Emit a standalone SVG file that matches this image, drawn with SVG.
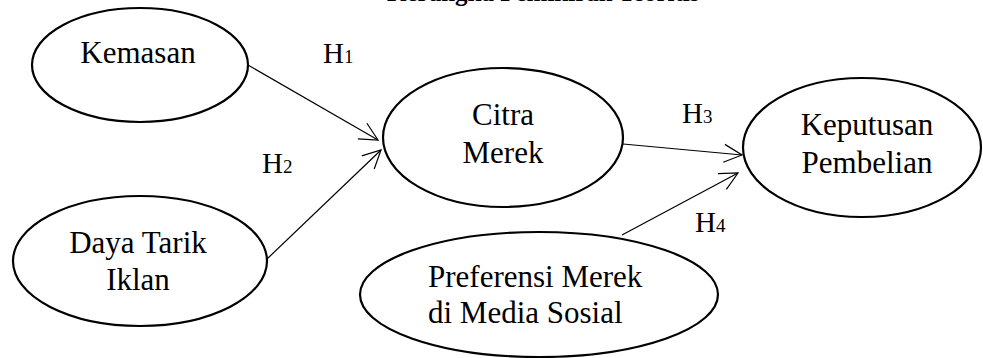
<svg xmlns="http://www.w3.org/2000/svg" width="983" height="358" viewBox="0 0 983 358">
<style>
  .node { fill: #ffffff; stroke: #000000; stroke-width: 2.2; }
  .lbl { font-family: "Liberation Serif", "Times New Roman", serif; font-size: 31px; fill: #000000; }
  .h { font-family: "Liberation Serif", "Times New Roman", serif; font-size: 29px; fill: #000000; }
  .sub { font-size: 19px; }
  .title { font-family: "Liberation Serif", "Times New Roman", serif; font-size: 25px; font-weight: bold; fill: #000000; }
  .edge { stroke: #000000; stroke-width: 1.2; fill: none; marker-end: url(#arr); }
</style>
<defs>
  <marker id="arr" markerUnits="userSpaceOnUse" markerWidth="20" markerHeight="20" viewBox="0 0 20 20" refX="18" refY="9" orient="auto" overflow="visible">
    <path d="M0,0 L18,9 L0,18" fill="none" stroke="#000000" stroke-width="1.2"/>
  </marker>
</defs>
<rect width="983" height="358" fill="#ffffff"/>
<text class="title" x="387" y="1">Kerangka Pemikiran Teoritis</text>

<g id="connectors">
  <line class="edge" x1="248" y1="65" x2="378" y2="140"/>
  <line class="edge" x1="267" y1="259" x2="381" y2="150"/>
  <line class="edge" x1="623" y1="144" x2="742" y2="155"/>
  <line class="edge" x1="622" y1="235" x2="738" y2="173"/>
</g>

<g id="kemasan">
  <ellipse class="node" cx="140" cy="65" rx="108" ry="57"/>
  <text class="lbl" x="138" y="63" text-anchor="middle">Kemasan</text>
</g>
<g id="daya-tarik-iklan">
  <ellipse class="node" cx="140" cy="261" rx="127" ry="65"/>
  <text class="lbl" x="138" y="253" text-anchor="middle">Daya Tarik</text>
  <text class="lbl" x="138" y="290" text-anchor="middle">Iklan</text>
</g>
<g id="citra-merek">
  <ellipse class="node" cx="503" cy="137.5" rx="120" ry="69.5"/>
  <text class="lbl" x="503" y="125" text-anchor="middle">Citra</text>
  <text class="lbl" x="503" y="163" text-anchor="middle">Merek</text>
</g>
<g id="keputusan-pembelian">
  <ellipse class="node" cx="862" cy="147.5" rx="119" ry="69.5"/>
  <text class="lbl" x="867" y="135" text-anchor="middle">Keputusan</text>
  <text class="lbl" x="867" y="173" text-anchor="middle">Pembelian</text>
</g>
<g id="preferensi-merek">
  <ellipse class="node" cx="539" cy="294.5" rx="179" ry="62.5"/>
  <text class="lbl" x="428" y="287">Preferensi Merek</text>
  <text class="lbl" x="428" y="323">di Media Sosial</text>
</g>

<g id="hypotheses">
  <text class="h" x="323" y="63">H<tspan class="sub">1</tspan></text>
  <text class="h" x="262" y="173">H<tspan class="sub">2</tspan></text>
  <text class="h" x="682" y="123">H<tspan class="sub">3</tspan></text>
  <text class="h" x="695" y="232">H<tspan class="sub">4</tspan></text>
</g>
</svg>
